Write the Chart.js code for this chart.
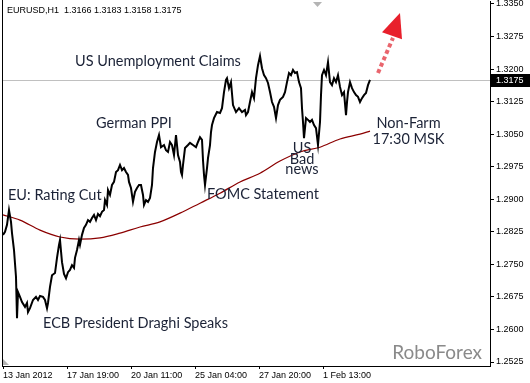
<!DOCTYPE html>
<html>
<head>
<meta charset="utf-8">
<script src="https://cdn.jsdelivr.net/npm/chart.js@4.4.1/dist/chart.umd.min.js"></script>
<style>
    body { margin: 0; background: #fff; }
    #chart { display: block; }
</style>
</head>
<body>
<canvas id="chart" width="530" height="383"></canvas>
<script>
// hourly bar number, counted from 13 Jan 2012
let barIndex = [
    0, 2, 4, 6, 8, 9, 11, 13, 14, 15,
    17, 19, 22, 24, 25, 27, 30, 33, 35, 37,
    40, 42, 44, 45, 47, 49, 52, 54, 56, 57,
    59, 61, 63, 65, 67, 69, 71, 72, 74, 76,
    77, 79, 81, 83, 85, 87, 89, 91, 93, 95,
    97, 99, 101, 102, 104, 105, 107, 109, 111, 113,
    115, 117, 119, 121, 123, 125, 126, 128, 130, 132,
    134, 136, 138, 140, 141, 143, 145, 147, 149, 150,
    152, 154, 156, 158, 161, 163, 165, 167, 169, 171,
    173, 175, 177, 178, 179, 180, 182, 185, 187, 190,
    193, 195, 197, 199, 200, 201, 202, 204, 205, 207,
    208, 209, 211, 214, 217, 219, 221, 223, 224, 226,
    228, 230, 233, 236, 239, 242, 243, 245, 247, 249,
    251, 253, 255, 257, 259, 261, 263, 265, 267, 269,
    271, 273, 275, 277, 280, 282, 284, 286, 288, 290,
    292, 294, 296, 298, 299, 300, 301, 303, 305, 307,
    309, 311, 313, 315, 317, 318, 319, 321, 323, 325,
    327, 329, 331, 333, 335, 337, 339, 341, 343, 344,
    345, 347, 349, 351, 353, 355, 357, 359, 361, 363,
    365, 367
];

let closePrice = [
    1.2818, 1.2825, 1.2841, 1.2875, 1.2848, 1.2822, 1.2783, 1.2721, 1.2626, 1.2686,
    1.2675, 1.2663, 1.2652, 1.2661, 1.2640, 1.2649, 1.2668, 1.2675, 1.2668, 1.2677,
    1.2675, 1.2668, 1.2649, 1.2661, 1.2698, 1.2725, 1.2730, 1.2765, 1.2795, 1.2806,
    1.2755, 1.2728, 1.2718, 1.2732, 1.2737, 1.2748, 1.2742, 1.2765, 1.2783, 1.2806,
    1.2795, 1.2818, 1.2834, 1.2841, 1.2852, 1.2848, 1.2857, 1.2864, 1.2852, 1.2866,
    1.2861, 1.2871, 1.2875, 1.2898, 1.2887, 1.2921, 1.2910, 1.2933, 1.2940, 1.2963,
    1.2967, 1.2979, 1.2967, 1.2972, 1.2963, 1.2956, 1.2940, 1.2926, 1.2894, 1.2917,
    1.2926, 1.2933, 1.2933, 1.2910, 1.2887, 1.2898, 1.2894, 1.2903, 1.2933, 1.2972,
    1.3009, 1.3032, 1.3048, 1.3020, 1.3025, 1.3013, 1.3009, 1.3032, 1.3025, 1.3002,
    1.3048, 1.3002, 1.2986, 1.2963, 1.2956, 1.2979, 1.3018, 1.3025, 1.3030, 1.3025,
    1.3020, 1.3032, 1.3043, 1.3037, 1.2990, 1.2956, 1.2933, 1.2972, 1.2995, 1.3025,
    1.3055, 1.3071, 1.3087, 1.3101, 1.3099, 1.3110, 1.3147, 1.3175, 1.3179, 1.3156,
    1.3170, 1.3117, 1.3101, 1.3110, 1.3101, 1.3106, 1.3094, 1.3101, 1.3124, 1.3147,
    1.3133, 1.3179, 1.3209, 1.3230, 1.3202, 1.3186, 1.3179, 1.3168, 1.3147, 1.3124,
    1.3113, 1.3087, 1.3117, 1.3129, 1.3136, 1.3147, 1.3170, 1.3191, 1.3186, 1.3198,
    1.3191, 1.3193, 1.3170, 1.3156, 1.3110, 1.3078, 1.3041, 1.3087, 1.3083, 1.3078,
    1.3083, 1.3071, 1.3064, 1.3025, 1.3078, 1.3140, 1.3186, 1.3198, 1.3186, 1.3216,
    1.3170, 1.3163, 1.3179, 1.3170, 1.3186, 1.3159, 1.3140, 1.3147, 1.3094, 1.3124,
    1.3147, 1.3170, 1.3156, 1.3147, 1.3140, 1.3136, 1.3124, 1.3133, 1.3140, 1.3145,
    1.3163, 1.3175
];

// moving average
let maIndex = [0, 17, 37, 57, 77, 97, 117, 137, 157, 177, 197, 217, 237, 257, 277, 297, 317, 337, 357, 367];
let maPrice = [1.2864, 1.2852, 1.2829, 1.2813, 1.2808, 1.2811, 1.2822, 1.2836, 1.2848, 1.2868,
               1.2891, 1.2914, 1.2940, 1.2960, 1.2988, 1.3009, 1.3020, 1.3039, 1.3050, 1.3057];

let priceTicks = [1.2525, 1.2600, 1.2675, 1.2750, 1.2825, 1.2900, 1.2975, 1.3050, 1.3125, 1.3200, 1.3275, 1.3350];
let dateTickIndex = [0, 64, 128, 192, 256, 320];
let dateTickLabels = ['13 Jan 2012', '17 Jan 19:00', '20 Jan 11:00', '25 Jan 04:00', '27 Jan 20:00', '1 Feb 13:00'];

let lastPrice = 1.3175;
let headerText = 'EURUSD,H1  1.3166 1.3183 1.3158 1.3175';

// news notes, anchored in bar / price units
let notes = [
    { text: 'US Unemployment Claims', bar: 72, price: 1.3218, align: 'left' },
    { text: 'German PPI', bar: 93, price: 1.3076, align: 'left' },
    { text: 'EU: Rating Cut', bar: 5, price: 1.2908, align: 'left' },
    { text: 'FOMC Statement', bar: 204, price: 1.2912, align: 'left' },
    { text: 'US', bar: 299, price: 1.3018, align: 'center' },
    { text: 'Bad', bar: 299, price: 1.2993, align: 'center' },
    { text: 'news', bar: 299, price: 1.2970, align: 'center' },
    { text: 'Non-Farm', bar: 405.5, price: 1.3076, align: 'center' },
    { text: '17:30 MSK', bar: 405.5, price: 1.3037, align: 'center' },
    { text: 'ECB President Draghi Speaks', bar: 40, price: 1.2615, align: 'left' }
];

let arrowTail = [375, 1.3191];
let arrowNeck = [390, 1.3272];
let arrowHead = [[379, 1.3285], [397, 1.3329], [399, 1.3269]];


function px(chart, bar, price) {
    return [chart.scales.x.getPixelForValue(bar), chart.scales.y.getPixelForValue(price)];
}


const extras = {
    id: 'extras',
    beforeDatasetsDraw(chart) {
        const { ctx, chartArea } = chart;
        let y = Math.round(chart.scales.y.getPixelForValue(lastPrice)) + 0.5;
        ctx.save();
        ctx.strokeStyle = '#c0c0c0';
        ctx.lineWidth = 1;
        ctx.beginPath();
        ctx.moveTo(chartArea.left, y);
        ctx.lineTo(chartArea.right, y);
        ctx.stroke();
        ctx.restore();
    },
    afterDraw(chart) {
        const { ctx, chartArea } = chart;
        ctx.save();

        // left frame line
        ctx.strokeStyle = '#000';
        ctx.lineWidth = 1;
        ctx.beginPath();
        ctx.moveTo(chartArea.left + 0.5, chartArea.top - 1);
        ctx.lineTo(chartArea.left + 0.5, chartArea.bottom);
        ctx.stroke();

        // small grey markers
        ctx.fillStyle = '#b4b4b4';
        ctx.beginPath();
        ctx.moveTo(313, 2);
        ctx.lineTo(322, 2);
        ctx.lineTo(317.5, 7);
        ctx.closePath();
        ctx.fill();
        ctx.beginPath();
        ctx.moveTo(chartArea.left + 1, chartArea.bottom - 7);
        ctx.lineTo(chartArea.left + 7, chartArea.bottom - 1);
        ctx.lineTo(chartArea.left + 1, chartArea.bottom - 1);
        ctx.closePath();
        ctx.fill();

        // header
        ctx.fillStyle = '#000';
        ctx.font = '9px "Liberation Sans"';
        ctx.textBaseline = 'middle';
        ctx.textAlign = 'left';
        ctx.fillText(headerText, 7, 11);

        // notes
        ctx.fillStyle = '#1b2236';
        ctx.font = '14.5px Lato';
        notes.forEach(n => {
            let p = px(chart, n.bar, n.price);
            ctx.textAlign = n.align;
            ctx.fillText(n.text, p[0], p[1]);
        });

        // watermark
        let w = px(chart, 479, 1.2546);
        ctx.fillStyle = '#8a8a8a';
        ctx.font = '19px Lato';
        ctx.textAlign = 'right';
        ctx.fillText('RoboForex', w[0], w[1]);

        // arrow
        let a = px(chart, arrowTail[0], arrowTail[1]);
        let b = px(chart, arrowNeck[0], arrowNeck[1]);
        ctx.strokeStyle = 'rgba(226, 50, 60, 0.75)';
        ctx.lineWidth = 4;
        ctx.setLineDash([4, 3]);
        ctx.beginPath();
        ctx.moveTo(a[0], a[1]);
        ctx.lineTo(b[0], b[1]);
        ctx.stroke();
        ctx.setLineDash([]);
        ctx.fillStyle = '#e8202c';
        ctx.beginPath();
        arrowHead.forEach((h, i) => {
            let p = px(chart, h[0], h[1]);
            if (i == 0) ctx.moveTo(p[0], p[1]);
            else ctx.lineTo(p[0], p[1]);
        });
        ctx.closePath();
        ctx.fill();

        // last price box on the axis
        let y = Math.round(chart.scales.y.getPixelForValue(lastPrice));
        ctx.fillStyle = '#000';
        ctx.fillRect(chartArea.right + 1, y - 6, 40, 13);
        ctx.fillStyle = '#fff';
        ctx.font = '9px "Liberation Sans"';
        ctx.textAlign = 'left';
        ctx.fillText(lastPrice.toFixed(4), chartArea.right + 6, y + 0.5);

        ctx.restore();
    }
};


new Chart(document.getElementById('chart'), {
    type: 'line',
    data: {
        datasets: [
            {
                data: barIndex.map((b, i) => ({ x: b, y: closePrice[i] })),
                borderColor: '#000',
                borderWidth: 2,
                borderJoinStyle: 'miter',
                pointRadius: 0,
                tension: 0
            },
            {
                data: maIndex.map((b, i) => ({ x: b, y: maPrice[i] })),
                borderColor: '#8b0000',
                borderWidth: 1.2,
                pointRadius: 0,
                cubicInterpolationMode: 'monotone'
            }
        ]
    },
    options: {
        responsive: false,
        animation: false,
        layout: { padding: { left: 2, top: 1, right: 0, bottom: 0 } },
        plugins: {
            legend: { display: false },
            tooltip: { enabled: false }
        },
        scales: {
            x: {
                type: 'linear',
                min: -1,
                max: 487,
                afterBuildTicks: s => { s.ticks = dateTickIndex.map(v => ({ value: v })); },
                afterFit: s => { s.height = 17; s.paddingLeft = 0; s.paddingRight = 0; },
                grid: { drawOnChartArea: false, tickLength: 3, color: '#000' },
                border: { display: true, color: '#000' },
                ticks: {
                    align: 'start',
                    maxRotation: 0,
                    autoSkip: false,
                    padding: 1,
                    color: '#000',
                    font: { family: 'Liberation Sans', size: 9 },
                    callback: v => dateTickLabels[dateTickIndex.indexOf(v)]
                }
            },
            y: {
                position: 'right',
                min: 1.25158,
                max: 1.33569,
                afterBuildTicks: s => { s.ticks = priceTicks.map(v => ({ value: v })); },
                afterFit: s => { s.width = 40; s.paddingTop = 0; s.paddingBottom = 0; },
                grid: { drawOnChartArea: false, tickLength: 4, color: '#000' },
                border: { display: true, color: '#000' },
                ticks: {
                    autoSkip: false,
                    padding: 2,
                    color: '#000',
                    font: { family: 'Liberation Sans', size: 9 },
                    callback: v => v.toFixed(4)
                }
            }
        }
    },
    plugins: [extras]
});
</script>
</body>
</html>
